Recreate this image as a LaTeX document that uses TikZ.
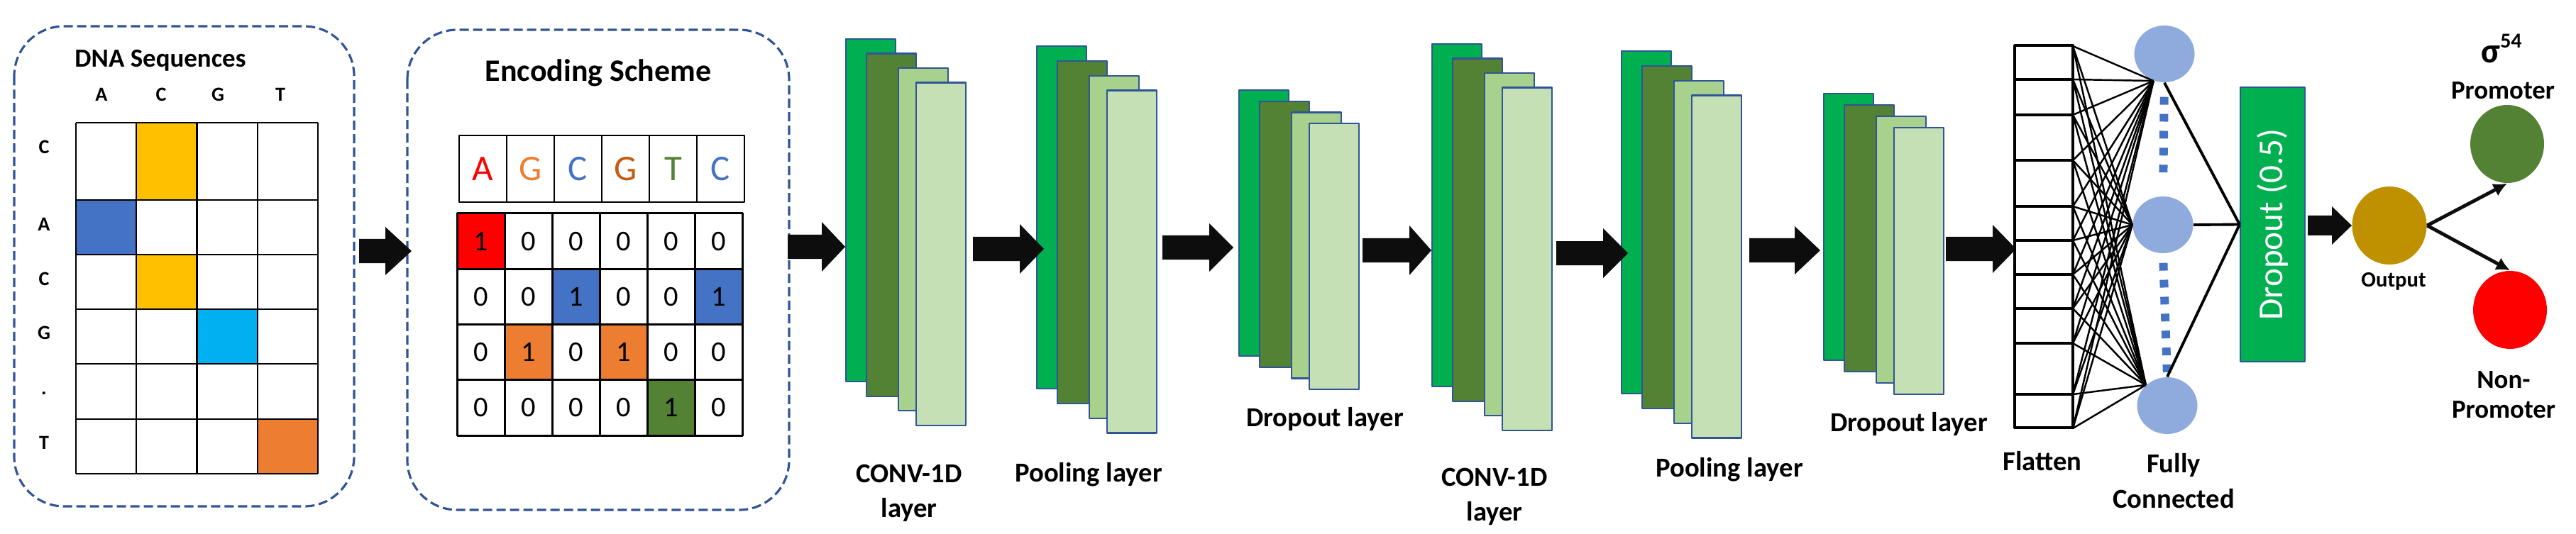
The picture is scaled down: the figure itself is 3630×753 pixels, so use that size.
\documentclass[tikz,border=0pt]{standalone}
\usepackage{fontspec}
\setmainfont{Carlito}
\usetikzlibrary{shapes.geometric, arrows.meta}

\definecolor{panelblue}{HTML}{2F5597}
\definecolor{cellgold}{HTML}{FFC000}
\definecolor{cellblue}{HTML}{4472C4}
\definecolor{cellcyan}{HTML}{00B0F0}
\definecolor{cellorange}{HTML}{ED7D31}
\definecolor{bitred}{HTML}{FF0000}
\definecolor{bitgreen}{HTML}{548235}
\definecolor{letGb}{HTML}{C55A11}
\definecolor{layerA}{HTML}{00B050}
\definecolor{layerB}{HTML}{548235}
\definecolor{layerC}{HTML}{A9D18E}
\definecolor{layerD}{HTML}{C5E0B4}
\definecolor{fcblue}{HTML}{8FAADC}
\definecolor{outgold}{HTML}{BF9000}
\definecolor{arrowblack}{HTML}{0D0D0D}

\begin{document}
\begin{tikzpicture}[x=0.1mm, y=-0.1mm, >={Latex[length=5.5pt,width=5.5pt]}, line join=round]

% --- Global TikZ Styles ---
\tikzset{
    panel/.style={
        draw=panelblue,
        dash pattern=on 3.7pt off 1.7pt,
        line width=0.9pt,
        rounded corners=20pt
    },
    gridline/.style={
        draw=black,
        line width=0.6pt
    },
    lettercell/.style={
        draw=black,
        line width=0.8pt,
        minimum width=6.7mm,
        minimum height=9.4mm,
        inner sep=0pt,
        font=\fontsize{14.5}{14.5}\selectfont
    },
    bitcell/.style={
        draw=black,
        line width=0.85pt,
        minimum width=6.7mm,
        minimum height=7.83mm,
        inner sep=0pt,
        font=\fontsize{11.5}{11.5}\selectfont
    },
    layerrect/.style={
        draw=panelblue,
        line width=0.6pt,
        minimum width=7mm,
        inner sep=0pt,
        anchor=north west
    },
    blockarrow/.style={
        fill=arrowblack
    },
    flatcol/.style={
        draw=black,
        line width=1.1pt,
        minimum width=8.2mm,
        minimum height=53.9mm,
        inner sep=0pt
    },
    fcline/.style={
        draw=black,
        line width=0.7pt
    },
    fcthick/.style={
        draw=black,
        line width=1.1pt
    },
    fcdots/.style={
        draw=cellblue,
        line width=3.4pt,
        dash pattern=on 3.1pt off 3.7pt
    },
    neuron/.style={
        ellipse,
        inner sep=0pt
    },
    outarrow/.style={
        ->,
        draw=arrowblack,
        line width=1.4pt
    },
    smalllabel/.style={
        font=\fontsize{8}{8}\selectfont\bfseries
    },
    layerlabel/.style={
        font=\fontsize{11}{14}\selectfont\bfseries,
        align=center
    }
}

\useasboundingbox (0,0) rectangle (3630,753);

% =========================================================================
% --- DNA Sequences ---
% =========================================================================

\draw[panel] (20,37) rectangle (499,714);
\node[font=\fontsize{10.5}{10.5}\selectfont\bfseries] (dnatitle) at (226,85) {DNA Sequences};

\foreach \l/\xx in {A/143, C/227, G/307, T/395}
    \node[smalllabel] (col\l) at (\xx,133) {\l};

\foreach \l/\yy [count=\i] in {C/207, A/316, C/393, G/469, ./555, T/624}
    \node[smalllabel] (row\i) at (62,\yy) {\l};

% gekleurde cellen
\foreach \ya/\yb/\c/\col in {173/282/2/cellgold, 282/359/1/cellblue,
                              359/436/2/cellgold, 436/513/3/cellcyan,
                              591/668/4/cellorange}
    \fill[\col] ({107+85.25*(\c-1)},\ya) rectangle ({107+85.25*\c},\yb);

\foreach \yy in {173,282,359,436,513,591,668}
    \draw[gridline] (107,\yy) -- (448,\yy);
\foreach \xx in {107,192.25,277.5,362.75,448}
    \draw[gridline] (\xx,173) -- (\xx,668);

% =========================================================================
% --- Encoding Scheme ---
% =========================================================================

\draw[panel] (574,42) rectangle (1112,719);
\node[font=\fontsize{12.5}{12.5}\selectfont\bfseries] (enctitle) at (843,103) {Encoding Scheme};

\foreach \l/\lc [count=\c] in {A/bitred, G/cellorange, C/cellblue, G/letGb, T/bitgreen, C/cellblue}
    \node[lettercell, text=\lc] (seq\c) at ({647+67*(\c-0.5)},238) {\l};

\foreach \r/\rowcol/\row in {1/bitred/{1,0,0,0,0,0}, 2/cellblue/{0,0,1,0,0,1},
                              3/cellorange/{0,1,0,1,0,0}, 4/bitgreen/{0,0,0,0,1,0}} {
    \foreach \v [count=\c] in \row {
        \ifnum\v=1 \def\cellfill{\rowcol}\else\def\cellfill{white}\fi
        \node[bitcell, fill=\cellfill] (bit\r\c) at ({644+67*(\c-0.5)},{301+78.25*(\r-0.5)}) {\v};
    }
}

% =========================================================================
% --- Lagen ---
% =========================================================================

\foreach \name/\xa/\ya/\hgt/\dy in {conv1/1191/54/483/20.5, pool1/1460/64/483/20.8,
                                    drop1/1745/126/375/15.7, conv2/2017/61/483/20.5,
                                    pool2/2284/71/483/20.8, drop2/2569/131/376/16} {
    \foreach \dx/\k/\fillc in {0/0/layerA, 29/1/layerB, 74/2/layerC, 99/3/layerD}
        \node[layerrect, fill=\fillc, minimum height=0.1mm*\hgt]
            (\name-\k) at ({\xa+\dx},{\ya+\k*\dy}) {};
}

\node[layerlabel] (lconv1) at (1281,695) {CONV-1D\\layer};
\node[layerlabel] (lpool1) at (1534,669) {Pooling layer};
\node[layerlabel] (ldrop1) at (1867,591) {Dropout layer};
\node[layerlabel] (lconv2) at (2106,700) {CONV-1D\\layer};
\node[layerlabel] (lpool2) at (2437,662) {Pooling layer};
\node[layerlabel] (ldrop2) at (2690,598) {Dropout layer};

% --- Blokpijlen ---
\foreach \xs/\xh/\xt/\yc/\sw/\hw in {506/543/580/354/17/34, 1110/1158/1191/348/17/35,
                                     1371/1437/1471/351/17/35, 1638/1704/1738/349/17/34,
                                     1920/1986/2017/353/17/35, 2193/2259/2294/357/17/35,
                                     2465/2529/2565/353/17/34, 2742/2808/2841/351/17/34,
                                     3252/3286/3314/318/14/27}
    \fill[blockarrow] (\xs,{\yc-\sw}) -- (\xh,{\yc-\sw}) -- (\xh,{\yc-\hw}) -- (\xt,\yc)
        -- (\xh,{\yc+\hw}) -- (\xh,{\yc+\sw}) -- (\xs,{\yc+\sw}) -- cycle;

% =========================================================================
% --- Flatten en Fully Connected ---
% =========================================================================

\node[flatcol] (flat) at (2880,333.5) {};
\foreach \yy in {112,162,226,291,339,387,435,484,556}
    \draw[gridline, line width=1.1pt] (2839,\yy) -- (2921,\yy);
\node[layerlabel] (lflat) at (2878,650) {Flatten};

\node[neuron, fill=fcblue, minimum width=8.5mm, minimum height=8mm] (fc1) at (3050,76) {};
\node[neuron, fill=fcblue, minimum width=8.5mm, minimum height=8mm] (fc2) at (3048,317) {};
\node[neuron, fill=fcblue, minimum width=8.5mm, minimum height=8mm] (fc3) at (3054,572) {};
\node[layerlabel] (lfc) at (3063,678) {Fully\\Connected};

\foreach \yy [count=\i] in {65,112,162,226,291,339,387,435,484,556,604}
    \coordinate (src\i) at (2921,\yy);

\foreach \i in {1,...,11}
    \foreach \t in {fc1.248, fc2.west, fc3.136}
        \draw[fcline] (src\i) -- (\t);

\draw[fcdots, shorten <=2mm, shorten >=2.6mm] (fc1.south) -- (fc2.north);
\draw[fcdots, shorten <=1.3mm, shorten >=0.6mm] (fc2.south) -- (fc3.north);

% --- Dropout (0.5) ---
\node[draw=panelblue, line width=0.6pt, fill=layerA, minimum width=9.1mm, minimum height=38.7mm,
      inner sep=0pt, text=white, font=\fontsize{14}{14}\selectfont] (drop) at (3202.5,316.5)
    {\rotatebox{90}{Dropout (0.5)}};

\draw[fcthick] (fc1.south) -- (drop.west);
\draw[fcthick] (fc2.east) -- (drop.west);
\draw[fcthick] (fc3.north) -- (drop.west);

% =========================================================================
% --- Output ---
% =========================================================================

\node[neuron, fill=outgold, minimum width=10.5mm, minimum height=11mm] (out) at (3367,318) {};
\node[neuron, fill=bitgreen, minimum width=10.4mm, minimum height=11mm] (prom) at (3533,203) {};
\node[neuron, fill=bitred, minimum width=10.4mm, minimum height=11mm] (nonprom) at (3537,437) {};

\draw[outarrow] (out.east) -- (prom.south);
\draw[outarrow] (out.east) -- (nonprom.north);

\node[font=\fontsize{8.7}{8.7}\selectfont\bfseries] (lout) at (3373,397) {Output};
\node[anchor=base, font=\fontsize{14}{14}\selectfont\bfseries] (lsigma) at (3525,89)
    {σ\raisebox{6pt}{\fontsize{8.5}{8.5}\selectfont 54}};
\node[font=\fontsize{10.5}{10.5}\selectfont\bfseries] (lprom) at (3527,128) {Promoter};
\node[font=\fontsize{10.5}{12}\selectfont\bfseries, align=center] (lnon) at (3528,557) {Non-\\Promoter};

\end{tikzpicture}
\end{document}
